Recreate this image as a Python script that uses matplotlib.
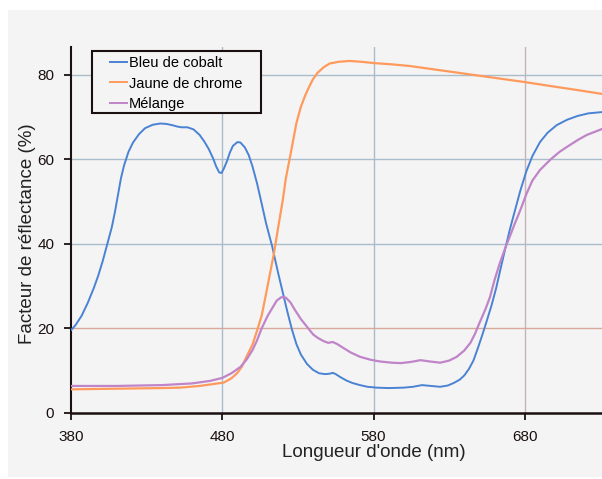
import matplotlib
matplotlib.use("Agg")
import matplotlib.pyplot as plt
from matplotlib.patches import Rectangle
from matplotlib.lines import Line2D

plt.rcParams["font.family"] = ["Liberation Sans", "DejaVu Sans"]

# Bleu de cobalt
wl_blue = [380, 383, 387, 391, 395, 398, 401, 404, 407, 409, 411, 413, 415, 418,
           421, 425, 429, 434, 439, 443, 447, 450, 453, 457, 461, 465, 468, 471,
           474, 476, 478, 479.5, 481, 483, 485, 487, 490, 492, 495, 497.5, 500,
           503, 506, 509, 513, 517, 520, 523, 526, 529, 532, 536, 540, 544, 548,
           551, 553, 555, 558, 562, 566, 571, 576, 582, 590, 600, 606, 612, 618,
           624, 629, 633, 637, 640, 643, 646, 649, 652, 655, 658, 661, 664, 667,
           670, 673, 677, 681, 685, 690, 695, 701, 708, 715, 722, 731]
r_blue = [19.6, 20.8, 23, 26, 29.5, 32.5, 36, 40, 44, 47.5, 51.5, 55.5, 58.5, 61.8,
          64, 66, 67.4, 68.2, 68.5, 68.4, 68.1, 67.8, 67.6, 67.6, 67.1, 65.8, 64.3,
          62.5, 60.2, 58.3, 56.9, 56.8, 57.8, 59.5, 61.6, 63.2, 64.1, 64.0, 62.8,
          61, 58.3, 54.3, 49.6, 44.8, 39.4, 33, 28.5, 24, 19.8, 16.3, 13.8, 11.6,
          10.2, 9.4, 9.2, 9.3, 9.5, 9.2, 8.5, 7.7, 7.1, 6.6, 6.2, 6.0, 5.9, 6.0,
          6.2, 6.6, 6.4, 6.2, 6.5, 7.1, 7.9, 8.9, 10.4, 12.4, 15.4, 18.6, 22, 25.5,
          29.5, 34.2, 38.8, 43.3, 47.3, 52.6, 57.2, 60.8, 64.1, 66.3, 68.1, 69.4,
          70.3, 70.9, 71.2]

# Jaune de chrome
wl_orange = [380, 400, 420, 440, 452, 465, 475, 481, 486, 490, 493, 496, 500, 503,
             506, 508, 511, 514, 517, 520, 522, 525, 529, 532, 535, 538, 540, 543,
             547, 551, 557, 564, 572, 580, 592, 604, 620, 640, 660, 680, 700, 715,
             731]
r_orange = [5.6, 5.7, 5.8, 5.9, 6.0, 6.4, 6.9, 7.2, 8.2, 9.5, 11, 13.3, 16.2, 19.5,
            23, 26.5, 32, 37.5, 44, 50.4, 55.5, 61, 68.6, 72.5, 75.3, 77.6, 79.0,
            80.5, 81.8, 82.7, 83.1, 83.3, 83.1, 82.8, 82.5, 82.1, 81.3, 80.3, 79.3,
            78.3, 77.2, 76.4, 75.5]

# Mélange
wl_mix = [380, 410, 440, 460, 472, 480, 486, 492, 496, 500, 503, 506, 510, 513,
          516, 519, 522, 525, 528, 532, 536, 540, 543, 547, 550, 553, 556, 560,
          565, 571, 578, 584, 592, 598, 605, 611, 617, 624, 630, 635, 640, 644,
          647, 650, 654, 657, 660, 663.5, 667, 670, 673, 677, 681, 685, 690, 697,
          703, 708, 715, 721, 731]
r_mix = [6.4, 6.4, 6.6, 7.0, 7.6, 8.3, 9.4, 10.9, 12.6, 14.9, 17.2, 20, 23, 24.8,
         26.6, 27.4, 27.3, 26.2, 24.4, 22.2, 20.4, 18.6, 17.8, 17, 16.6, 16.8,
         16.3, 15.4, 14.3, 13.3, 12.6, 12.2, 11.9, 11.8, 12.1, 12.5, 12.2, 11.9,
         12.4, 13.3, 14.8, 16.6, 18.7, 21.3, 24.6, 27.5, 31.5, 35.5, 39, 41.7,
         44.5, 48, 51.8, 55, 57.5, 60, 61.8, 63, 64.6, 65.8, 67.2]

x_ticks = [380, 480, 580, 680]
y_ticks = [0, 20, 40, 60, 80]

bg = "#f4f4f4"
c_blue = "#4a82d4"
c_orange = "#ff9a5c"
c_mix = "#c084c8"
c_grid = "#a9bccb"

fig = plt.figure(figsize=(6.02, 4.79), dpi=100, facecolor="white")
fig.patches.append(Rectangle((8 / 602, 2 / 479), 594 / 602, 467 / 479,
                             transform=fig.transFigure, facecolor=bg,
                             edgecolor="none", zorder=-10))

ax = fig.add_axes([71 / 602, 66 / 479, 531 / 602, 366 / 479])
ax.set_facecolor(bg)
ax.set_xlim(380, 731)
ax.set_ylim(0, 86.6)

for x in x_ticks[1:]:
    ax.axvline(x, color="#c4b4ba" if x == 680 else c_grid, lw=1, zorder=1)
for y in y_ticks[1:]:
    ax.axhline(y, color="#d9aa9c" if y == 20 else c_grid, lw=1, zorder=1)

ax.plot(wl_blue, r_blue, color=c_blue, lw=1.4, zorder=3)
ax.plot(wl_orange, r_orange, color=c_orange, lw=1.6, zorder=3)
ax.plot(wl_mix, r_mix, color=c_mix, lw=1.6, zorder=3)

for s in ["top", "right"]:
    ax.spines[s].set_visible(False)
ax.spines["left"].set_linewidth(1.5)
ax.spines["bottom"].set_linewidth(1.8)
ax.spines["left"].set_color("#1a1010")
ax.spines["bottom"].set_color("#1a1010")

ax.set_xticks(x_ticks)
ax.set_yticks(y_ticks)
ax.tick_params(axis="x", direction="out", length=5, width=1.3, pad=7,
               labelsize=11, colors="#1a1010")
ax.tick_params(axis="y", direction="out", length=5, width=1.3, pad=7,
               labelsize=11, colors="#1a1010")

ax.set_xlabel("Longueur d'onde (nm)", fontsize=13.5, color="#222222")
ax.xaxis.set_label_coords((374 - 71) / 531, -0.085)
ax.set_ylabel("Facteur de réflectance (%)", fontsize=13.5, color="#222222")
ax.yaxis.set_label_coords(-0.066, 0.49)

# legend box drawn by hand, entries via legend without frame
ax.add_patch(Rectangle(((92 - 71) / 531, (413 - 113) / 366), 169 / 531, 62 / 366,
                       transform=ax.transAxes, facecolor=bg, edgecolor="#1a1010",
                       lw=1.5, zorder=4, clip_on=False))
handles = [Line2D([], [], color=c, lw=1.4) for c in (c_blue, c_orange, c_mix)]
ax.legend(handles, ["Bleu de cobalt", "Jaune de chrome", "Mélange"],
          loc="upper left", bbox_to_anchor=((109 - 71) / 531, (413 - 55) / 366),
          frameon=False, fontsize=10.5, handlelength=1.1, handletextpad=0.15,
          labelspacing=0.42, borderpad=0.1, borderaxespad=0).set_zorder(5)

fig.savefig("out.png", dpi=100, facecolor="white")
